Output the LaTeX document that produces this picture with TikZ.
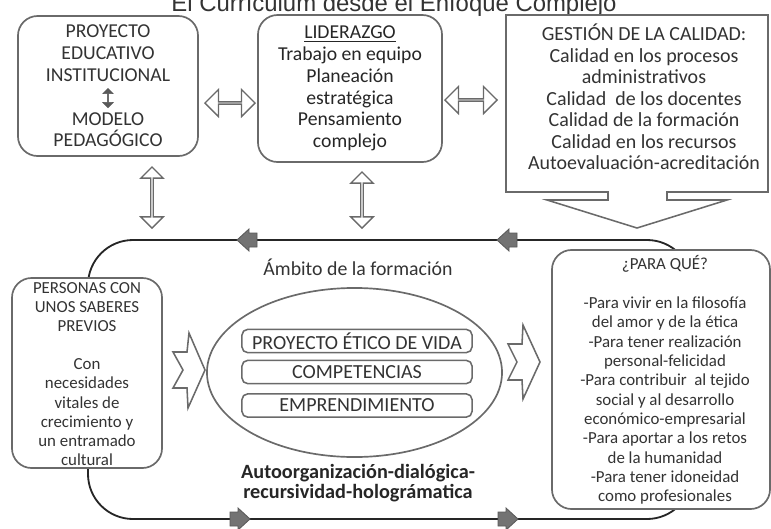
\documentclass[tikz,border=0pt]{standalone}
\usepackage{fontspec}
\setmainfont{Carlito}
\newfontfamily\titlefont{Liberation Sans}
\usetikzlibrary{shapes.arrows,shapes.geometric}

\definecolor{boxgray}{HTML}{6A6A6A}
\definecolor{textgray}{HTML}{333333}
\definecolor{flechagray}{HTML}{737373}

\tikzset{
  caja/.style={draw=boxgray, line width=1.2pt, rounded corners=14pt, fill=white,
    align=center, inner sep=0pt, text=textgray},
  cajatop/.style={caja, font=\fontsize{14}{15.5}\selectfont},
  cajalado/.style={caja, font=\fontsize{12}{13.75}\selectfont},
  cajita/.style={draw=boxgray, line width=1.1pt, rounded corners=4pt, fill=white,
    minimum width=5.75cm, minimum height=0.58cm, inner sep=0pt, text=textgray,
    font=\fontsize{14.2}{15}\selectfont},
  dobleflecha/.style={double arrow, draw=boxgray, line width=1pt, fill=white,
    inner sep=0pt, double arrow head extend=0.2cm},
  flechaciclo/.pic={
    \filldraw[fill=flechagray, draw=black!65, line width=0.6pt, line join=miter]
      (-10,-7) -- (-2,-7) -- (-2,-11) -- (10,0) -- (-2,11) -- (-2,7) -- (-10,7) -- cycle;
  },
  ciclo/.style={draw=black!85, line width=1.3pt, rounded corners=1.125cm},
  borde/.style={draw=boxgray, line width=1.1pt, fill=white, line join=miter},
}

\begin{document}
\begin{tikzpicture}[x=0.025cm,y=-0.025cm]
  \useasboundingbox (0,0) rectangle (771,528);
  %% Title (cut at the top)
  \node[anchor=base, text=textgray, font=\titlefont\fontsize{17}{20}\selectfont] (titulo)
    at (394,11) {El Currículum desde el Enfoque Complejo};

  %% Loop of the formation
  \draw[ciclo] (88,240) rectangle (692,519);
  \pic[rotate=180] at (247,240) {flechaciclo};
  \pic[rotate=180] at (507,240) {flechaciclo};
  \pic at (240,519) {flechaciclo};
  \pic at (508,519) {flechaciclo};

  %% Top boxes
  \node[cajatop, minimum width=4.5cm, minimum height=3.5cm] (pei) at (108,86)
    {PROYECTO\\EDUCATIVO\\INSTITUCIONAL\\[\baselineskip]MODELO\\PEDAGÓGICO};
  \node[double arrow, fill=black!65, draw=black!65, rotate=90, inner sep=0pt,
    minimum height=0.48cm, minimum width=0.26cm, double arrow head extend=0.05cm]
    (peiflecha) at (108,98) {};
  \node[cajatop, text=black!85, minimum width=4.6cm, minimum height=3.675cm] (lid) at (350,88.5)
    {\underline{LIDERAZGO}\\Trabajo en equipo\\Planeación\\estratégica\\Pensamiento\\complejo};
  \draw[borde] (506,15) -- (768,15) -- (768,192) -- (667,192) -- (667,200) -- (727,200)
    -- (637,228) -- (547,200) -- (608,200) -- (608,192) -- (506,192) -- cycle;
  \node[align=center, text=textgray, font=\fontsize{14.2}{15.3}\selectfont] (gestion) at (644,97)
    {GESTIÓN DE LA CALIDAD:\\Calidad en los procesos\\administrativos\\Calidad\ \ de los docentes\\
     Calidad de la formación\\Calidad en los recursos\\Autoevaluación-acreditación};

  %% Double arrows
  \node[dobleflecha, minimum height=1.25cm, minimum width=0.675cm] (f1) at (230,103) {};
  \node[dobleflecha, minimum height=1.3cm, minimum width=0.675cm] (f2) at (471,100) {};
  \node[dobleflecha, rotate=90, minimum height=1.525cm, minimum width=0.56cm,
    double arrow head extend=0.14cm] (f3) at (152,197.5) {};
  \node[dobleflecha, rotate=90, minimum height=1.4cm, minimum width=0.56cm,
    double arrow head extend=0.14cm] (f4) at (362,200) {};

  %% Left and right boxes
  \node[cajalado, minimum width=3.75cm, minimum height=4.75cm] (personas) at (87,373) {};
  \node[align=center, text=textgray, font=\fontsize{12}{13.6}\selectfont] (personastxt) at (87,374)
    {PERSONAS CON\\UNOS SABERES\\PREVIOS\\[\baselineskip]Con\\necesidades\\vitales de\\
     crecimiento y\\un entramado\\cultural};
  \node[cajalado, minimum width=5.45cm, minimum height=6.475cm] (para) at (661,379.5) {};
  \node[align=center, text=textgray, font=\fontsize{12}{13.75}\selectfont] (paratxt) at (665,380)
    {¿PARA QUÉ?\\[\baselineskip]-Para vivir en la filosofía\\del amor y de la ética\\
     -Para tener\ realización\\personal-felicidad\\-Para contribuir\ \ al tejido\\
     social y al desarrollo\\económico-empresarial\\-Para aportar\ a los retos\\
     de la humanidad\\-Para tener\ idoneidad\\como profesionales};

  %% Notched arrows
  \draw[borde] (189,333) -- (205,370) -- (188,408) -- (187,388) -- (173,388) -- (183,370)
    -- (173,352) -- (187,352) -- cycle;
  \draw[borde] (523,325) -- (540,362) -- (523,399) -- (522,380) -- (508,380) -- (517,362)
    -- (508,344) -- (522,344) -- cycle;

  %% Centre
  \node[text=textgray, font=\fontsize{14.1}{15}\selectfont] (ambito) at (358,267) {Ámbito de la formación};
  \node[ellipse, draw=boxgray, line width=1.2pt, minimum width=7.375cm, minimum height=4.225cm]
    (nucleo) at (354.5,372.5) {};
  \node[cajita] (etico) at (357,341) {PROYECTO ÉTICO DE VIDA};
  \node[cajita] (compet) at (357,372) {COMPETENCIAS};
  \node[cajita] (empren) at (357,405.5) {EMPRENDIMIENTO};
  \node[align=center, text=black!85, font=\bfseries\fontsize{14.4}{14.5}\selectfont] (auto) at (358,483)
    {Autoorganización-dialógica-\\recursividad-holográmatica};
\end{tikzpicture}
\end{document}
